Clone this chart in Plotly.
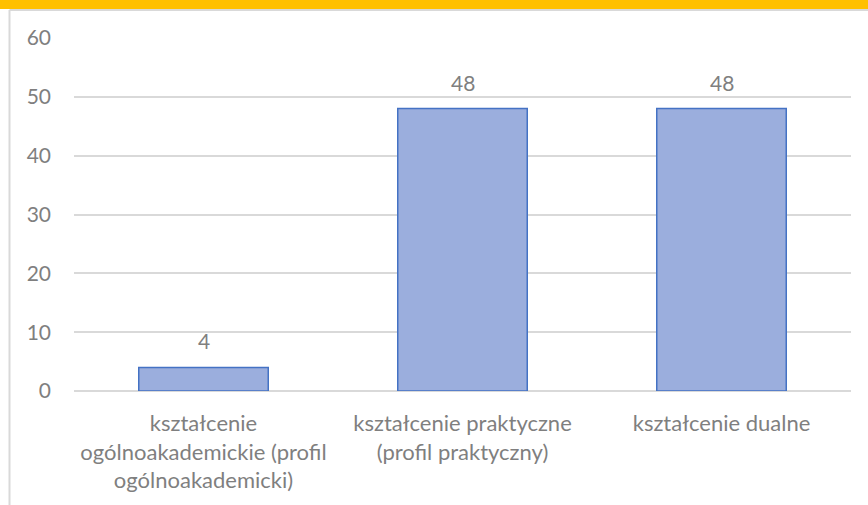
import plotly.graph_objects as go

# kategorie i wartości
categories = [
    "kształcenie<br>ogólnoakademickie (profil<br>ogólnoakademicki)",
    "kształcenie praktyczne<br>(profil praktyczny)",
    "kształcenie dualne",
]
values = [4, 48, 48]
y_ticks = [0, 10, 20, 30, 40, 50, 60]

grey = "#7F7F7F"
font_name = "Lato"

fig = go.Figure(data=go.Bar(
    x=categories,
    y=values,
    width=0.5,
    marker=dict(color="#9BAEDD", line=dict(color="#4472C4", width=1.5)),
))

# etykiety wartości nad słupkami
for c, v in zip(categories, values):
    fig.add_annotation(x=c, y=v, text=str(v), showarrow=False,
                       yanchor="bottom", yshift=12,
                       font=dict(size=21, color=grey, family=font_name))

fig.update_layout(
    width=868, height=505,
    margin=dict(l=74, r=17, t=38, b=112),
    plot_bgcolor="white", paper_bgcolor="white",
    font=dict(family=font_name, size=22, color=grey),
    showlegend=False,
    shapes=[
        # żółty pasek u góry
        dict(type="rect", xref="paper", yref="paper",
             x0=-0.2, x1=1.1, y0=1.0825, y1=1.12,
             fillcolor="#FFC000", line_width=0, layer="below"),
        # szara ramka
        dict(type="line", xref="paper", yref="paper",
             x0=-0.083, x1=1.1, y0=1.079, y1=1.079,
             line=dict(color="#D9D9D9", width=2)),
        dict(type="line", xref="paper", yref="paper",
             x0=-0.083, x1=-0.083, y0=-0.35, y1=1.079,
             line=dict(color="#D9D9D9", width=2)),
    ],
)

fig.update_yaxes(
    range=[0, 60], tickvals=y_ticks,
    showgrid=True, gridcolor="#D9D9D9", gridwidth=1.5,
    zeroline=True, zerolinecolor="#D9D9D9", zerolinewidth=1.5,
    showline=False, ticklabelstandoff=22,
    tickfont=dict(size=21, color=grey),
)
fig.update_xaxes(
    showline=False, showgrid=False, ticklabelstandoff=17,
    tickfont=dict(size=22, color=grey),
)

fig.write_html("out.html", config={"displayModeBar": False},
               post_script="document.body.style.margin='0';")
